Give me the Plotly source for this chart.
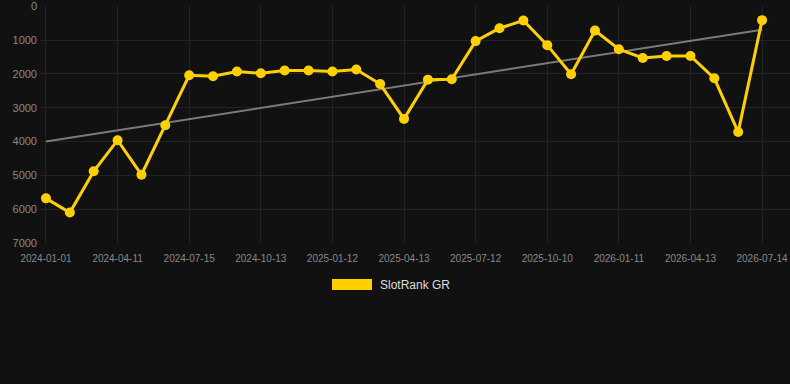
import numpy as np
import plotly.graph_objects as go

dates = ["2024-01-01", "2024-02-03", "2024-03-08", "2024-04-11", "2024-05-12", "2024-06-13",
         "2024-07-15", "2024-08-14", "2024-09-13", "2024-10-13", "2024-11-12", "2024-12-12",
         "2025-01-12", "2025-02-11", "2025-03-14", "2025-04-13", "2025-05-13", "2025-06-12",
         "2025-07-12", "2025-08-11", "2025-09-10", "2025-10-10", "2025-11-10", "2025-12-11",
         "2026-01-11", "2026-02-11", "2026-03-14", "2026-04-13", "2026-05-14", "2026-06-13",
         "2026-07-14"]
ranks = [5680, 6100, 4880, 3960, 4980, 3520, 2040, 2070, 1930, 1980, 1900, 1900, 1930, 1870,
         2300, 3330, 2170, 2160, 1030, 650, 420, 1150, 2010, 720, 1270, 1530, 1470, 1470,
         2130, 3720, 410]
tick_labels = dates[::3]
y_ticks = [0, 1000, 2000, 3000, 4000, 5000, 6000, 7000]
series_name = "SlotRank GR"

idx = np.arange(len(dates))
slope, intercept = np.polyfit(idx, ranks, 1)
trend = slope * idx + intercept

fig = go.Figure()
fig.add_trace(go.Scatter(
    x=dates, y=trend, mode="lines",
    line=dict(color="#7a7a7a", width=2), showlegend=False, hoverinfo="skip"))
fig.add_trace(go.Scatter(
    x=dates, y=ranks, mode="lines+markers", name=series_name,
    line=dict(color="#FFD000", width=3), marker=dict(color="#FFD000", size=10),
    showlegend=False))

fig.add_shape(type="rect", xref="paper", yref="paper",
              x0=(332 - 40) / 750, x1=(372 - 40) / 750,
              y0=(243 - 290) / 237, y1=(243 - 279) / 237,
              fillcolor="#FFD000", line=dict(width=0))
fig.add_annotation(xref="paper", yref="paper", x=(378 - 40) / 750, y=(243 - 285) / 237,
                   text=series_name, showarrow=False, xanchor="left", yanchor="middle",
                   font=dict(color="#dddddd", size=12, family="Arial, Liberation Sans"))

fig.update_layout(
    width=790, height=384,
    margin=dict(l=40, r=0, t=6, b=141),
    paper_bgcolor="#111111", plot_bgcolor="#111111",
    font=dict(family="Arial, Liberation Sans", color="#888888"),
    xaxis=dict(type="category", range=[-0.25, 31.17], tickmode="array",
               tickvals=tick_labels, ticktext=tick_labels,
               showgrid=True, gridcolor="#222222", gridwidth=1,
               zeroline=False, showline=False, tickfont=dict(size=10, color="#888888"),
               ticks="", ticklabelstandoff=8),
    yaxis=dict(range=[7000, -8], tickvals=y_ticks, showgrid=True, gridcolor="#222222",
               zeroline=False, showline=False, tickfont=dict(size=11, color="#888888"),
               ticks="", ticklabelstandoff=2),
)

fig.write_html("out.html")
